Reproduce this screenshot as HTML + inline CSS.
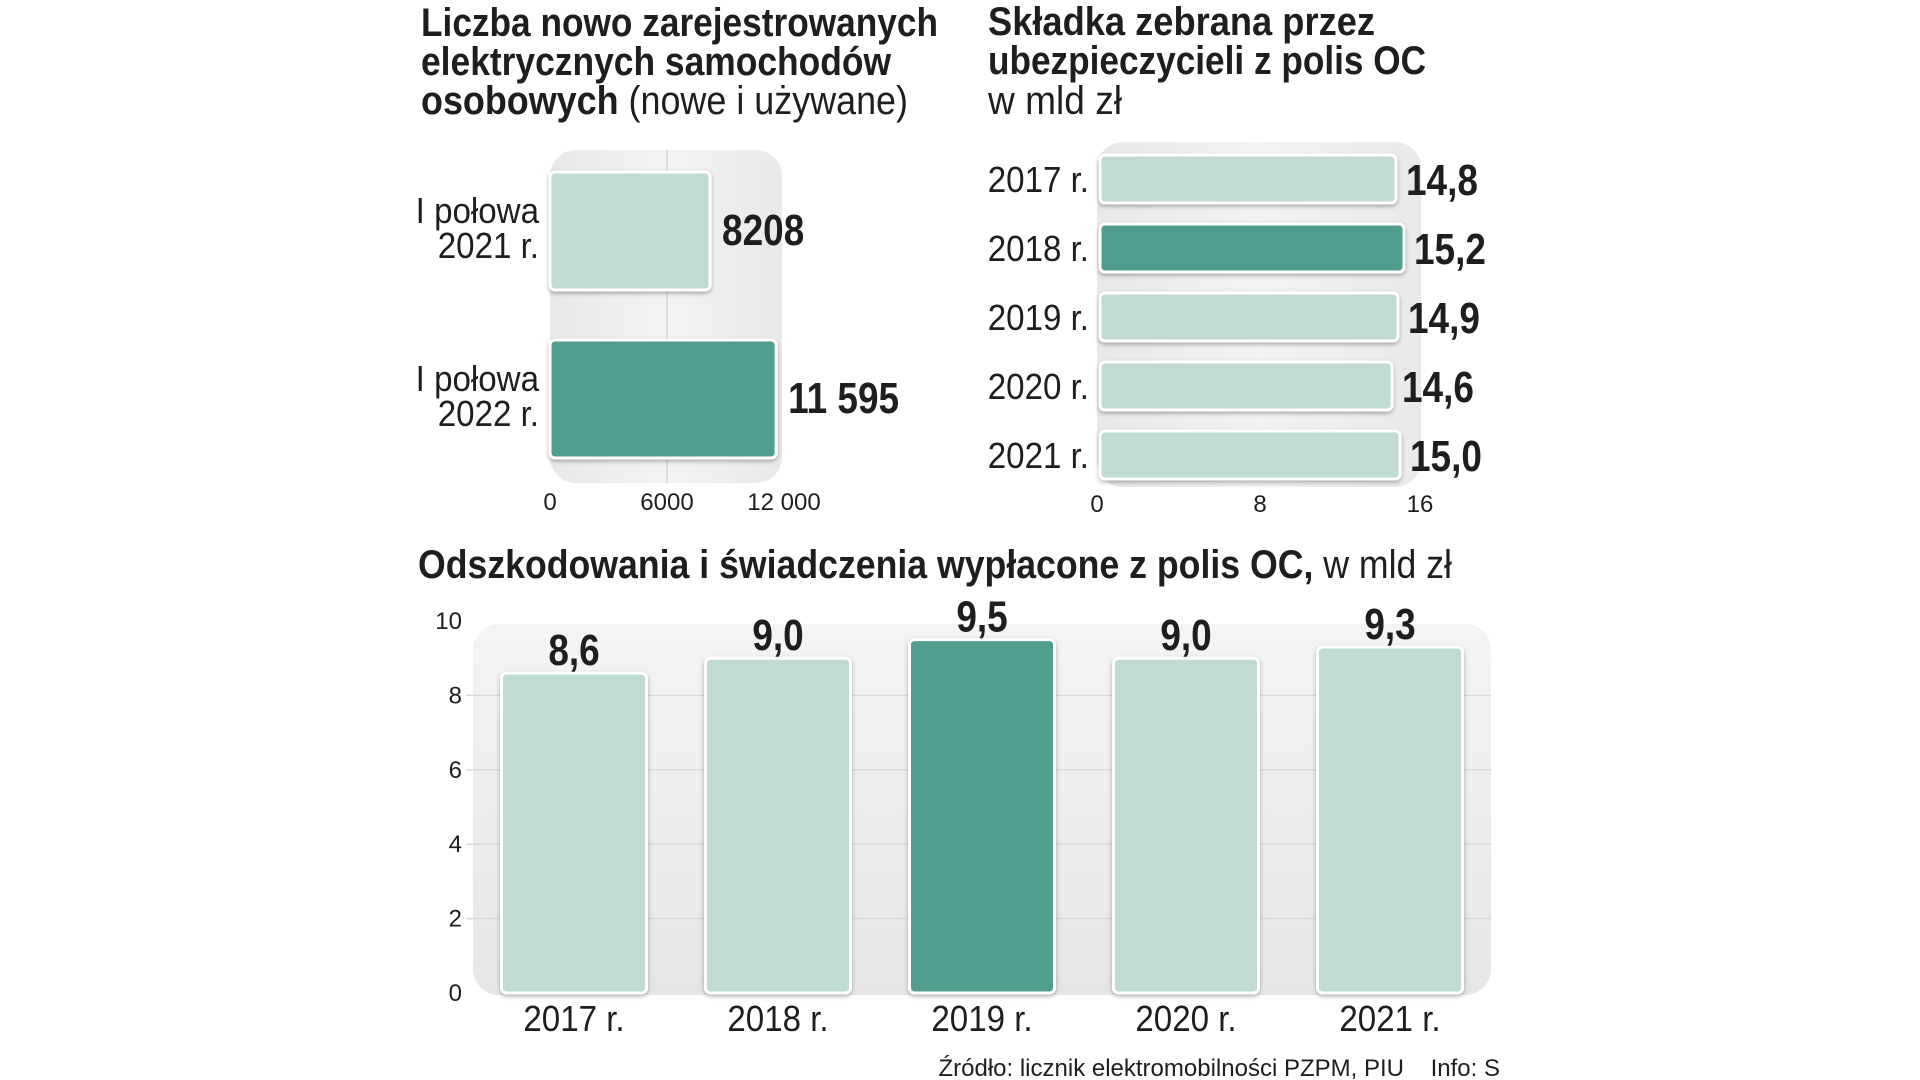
<!DOCTYPE html>
<html><head><meta charset="utf-8">
<style>
html,body{margin:0;padding:0;background:#fff;}
svg{display:block;}
text{font-family:"Liberation Sans Narrow","Liberation Sans",sans-serif;fill:#1e1e1e;}
.b{font-weight:bold;}
.n{font-family:"Liberation Sans","DejaVu Sans",sans-serif;}
</style></head>
<body>
<svg id="c" width="1920" height="1080" viewBox="0 0 1920 1080" xmlns="http://www.w3.org/2000/svg">
<defs>
<linearGradient id="bg" x1="0" x2="1" y1="0" y2="0"><stop offset="0" stop-color="#e8e8e8"/><stop offset="0.5" stop-color="#f3f3f3"/><stop offset="1" stop-color="#e9e9e9"/></linearGradient>
<linearGradient id="bgv" x1="0" x2="0" y1="0" y2="1"><stop offset="0" stop-color="#f4f4f4"/><stop offset="1" stop-color="#e6e6e6"/></linearGradient>
<filter id="sh" x="-10%" y="-10%" width="120%" height="130%"><feDropShadow dx="0" dy="2" stdDeviation="2" flood-color="#000" flood-opacity="0.3"/></filter>
</defs>
<g transform="translate(-4,0)">
<g>
<text class="b" x="425" y="36" font-size="40" textLength="517" lengthAdjust="spacingAndGlyphs">Liczba nowo zarejestrowanych</text>
<text class="b" x="425" y="75" font-size="40" textLength="470" lengthAdjust="spacingAndGlyphs">elektrycznych samochodów</text>
<text x="425" y="114" font-size="40" textLength="487" lengthAdjust="spacingAndGlyphs"><tspan class="b">osobowych</tspan><tspan font-weight="normal"> (nowe i używane)</tspan></text>
<rect x="554" y="150" width="232" height="333" rx="26" fill="url(#bg)"/>
<g id="leftG"></g>
</g>

<g>
<text class="b" x="992" y="35" font-size="40" textLength="387" lengthAdjust="spacingAndGlyphs">Składka zebrana przez</text>
<text class="b" x="992" y="74" font-size="40" textLength="438" lengthAdjust="spacingAndGlyphs">ubezpieczycieli z polis OC</text>
<text x="992" y="114" font-size="40" textLength="134" lengthAdjust="spacingAndGlyphs">w mld zł</text>
<rect x="1101" y="142" width="324" height="345" rx="26" fill="url(#bg)"/>
<g id="rightG"></g>
</g>

<g transform="translate(0,-4)">
<text x="422" y="582" font-size="40" textLength="1034" lengthAdjust="spacingAndGlyphs"><tspan class="b">Odszkodowania i świadczenia wypłacone z polis OC,</tspan><tspan> w mld zł</tspan></text>
<rect x="477" y="628" width="1018" height="371" rx="26" fill="url(#bgv)"/>
<g id="botG"></g>
</g>
<text class="n" x="1504" y="1076" font-size="24" text-anchor="end" fill="#333" xml:space="preserve">Źródło: licznik elektromobilności PZPM, PIU    Info: S</text>
</g>
</svg>

<script>
const leftCats = [["I połowa","2021 r."],["I połowa","2022 r."]];
const leftVals = [8208, 11595];
const leftLabels = ["8208","11 595"];
const leftTicks = [0, 6000, 12000];
const leftTickLabels = ["0","6000","12 000"];

const rightCats = ["2017 r.","2018 r.","2019 r.","2020 r.","2021 r."];
const rightVals = [14.8, 15.2, 14.9, 14.6, 15.0];
const rightLabels = ["14,8","15,2","14,9","14,6","15,0"];
const rightTicks = [0, 8, 16];

const botCats = ["2017 r.","2018 r.","2019 r.","2020 r.","2021 r."];
const botVals = [8.6, 9.0, 9.5, 9.0, 9.3];
const botLabels = ["8,6","9,0","9,5","9,0","9,3"];
const botTicks = [0, 2, 4, 6, 8, 10];
const highlightLeft = 1, highlightRight = 1, highlightBot = 2;

const NS = "http://www.w3.org/2000/svg";
const LIGHT = "#c0dad4", DARK = "#519e90";
const SQ = 0.84;
function mk(tag, attrs, parent, txt){
  const e = document.createElementNS(NS, tag);
  for (const k in attrs) e.setAttribute(k, attrs[k]);
  if (txt !== undefined) e.textContent = txt;
  parent.appendChild(e);
  return e;
}
function ctext(x, y, attrs, parent, txt, s){
  const a = Object.assign({}, attrs, {x:0, y:0, transform:`translate(${x},${y}) scale(${s||SQ},1)`});
  return mk("text", a, parent, txt);
}

(function(){
  const g = document.getElementById("leftG");
  const x = v => 554 + v / 12000 * 234;
  const rowY = [172, 340], h = 118;
  leftTicks.forEach((t, i) => {
    if (t > 0 && t < 12000) {
      const l = mk("line", {x1:x(t), x2:x(t), y1:150, y2:483, stroke:"#d6d6d6", "stroke-width":1.5}, g);
      
      
    }
    const tx = mk("text", {x:x(t), y:510, "font-size":24, "text-anchor":"middle", class:"n", fill:"#333"}, g, leftTickLabels[i]);
    
    
  });
  leftVals.forEach((v, i) => {
    const r = mk("rect", {x:x(0), y:rowY[i], width:x(v)-x(0), height:h, rx:5, fill: i===highlightLeft?DARK:LIGHT, stroke:"#fff", "stroke-width":3, filter:"url(#sh)"}, g);
    
    
    const c1 = ctext(543, rowY[i]+51, {"font-size":36, "text-anchor":"end"}, g, leftCats[i][0], 0.92);
    
    
    const c2 = ctext(543, rowY[i]+86, {"font-size":36, "text-anchor":"end"}, g, leftCats[i][1], 0.92);
    
    
    const vl = ctext(x(v)+12, rowY[i]+h/2+14, {"font-size":44, class:"b"}, g, leftLabels[i]);
    
    
  });
})();

(function(){
  const g = document.getElementById("rightG");
  const x = v => 1104 + v / 16 * 320;
  rightTicks.forEach(t => {
    const tx = mk("text", {x:x(t) - (t===0?3:0), y:512, "font-size":24, "text-anchor":"middle", class:"n", fill:"#333"}, g, String(t));
    
    
  });
  rightVals.forEach((v, i) => {
    const y = 155 + i * 69;
    const r = mk("rect", {x:x(0), y:y, width:x(v)-x(0), height:48, rx:5, fill: i===highlightRight?DARK:LIGHT, stroke:"#fff", "stroke-width":3, filter:"url(#sh)"}, g);
    
    
    const c = ctext(1093, y+37, {"font-size":36, "text-anchor":"end"}, g, rightCats[i], 0.92);
    
    
    const vl = ctext(x(v)+10, y+40, {"font-size":44, class:"b"}, g, rightLabels[i]);
    
    
  });
})();

(function(){
  const g = document.getElementById("botG");
  const y = v => 997 - v / 10 * 372;
  const cx = i => 578 + i * 204;
  const bw = 145;
  botTicks.forEach(t => {
    if (t > 0 && t < 10) {
      const l = mk("line", {x1:470, x2:1495, y1:y(t), y2:y(t), stroke:"#dadada", "stroke-width":1.5}, g);
      
      
    }
    const tx = mk("text", {x:466, y:y(t)+8, "font-size":24, "text-anchor":"end", class:"n", fill:"#333"}, g, String(t));
    
    
  });
  botVals.forEach((v, i) => {
    const r = mk("rect", {x:cx(i)-bw/2, y:y(v), width:bw, height:y(0)-y(v), rx:5, fill: i===highlightBot?DARK:LIGHT, stroke:"#fff", "stroke-width":3, filter:"url(#sh)"}, g);
    
    
    const vl = ctext(cx(i), y(v)-8, {"font-size":44, class:"b", "text-anchor":"middle"}, g, botLabels[i]);
    
    
    const c = ctext(cx(i), 1035, {"font-size":36, "text-anchor":"middle"}, g, botCats[i], 0.92);
    
    
  });
})();
</script>
</body></html>
